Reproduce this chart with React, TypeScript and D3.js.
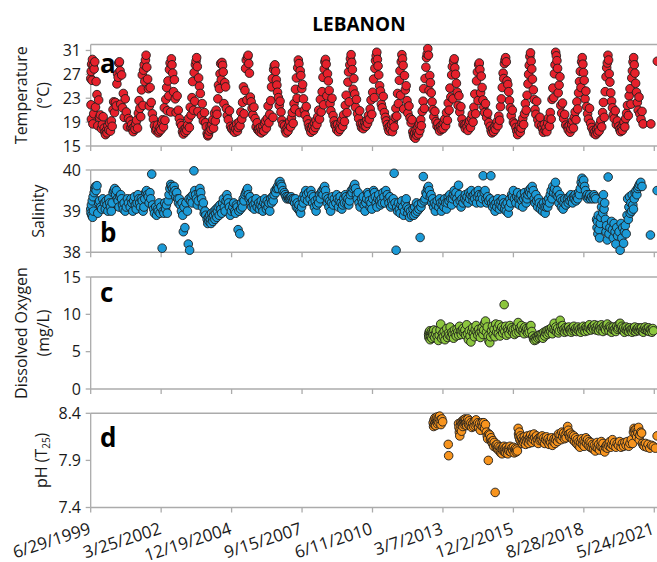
import React from 'react'
import * as d3 from 'd3'

// ---- data (month of year 0-12, value) grouped by year ----
const temperatureByYear: [number, number[]][] = [
  [1999, [5.9,26.3, 6.0,21.9, 6.1,27.5, 6.2,19.5, 6.3,28.7, 6.5,26.0, 6.7,29.5, 6.9,18.7, 7.1,28.4, 7.3,20.4, 7.5,27.9, 7.8,29.1, 8.1,21.5, 8.4,25.8, 8.8,23.6, 9.2,18.4, 9.6,22.7, 10.0,19.8, 10.4,20.2, 10.9,17.9, 11.3,18.6, 11.7,19.9]],
  [2000, [0.2,18.0, 0.5,17.3, 0.8,16.9, 1.2,17.6, 1.5,17.2, 1.9,18.4, 2.3,17.7, 2.7,18.9, 3.1,17.5, 3.5,19.2, 3.9,18.3, 4.3,21.1, 4.6,22.4, 5.0,20.6, 5.4,22.3, 5.8,21.7, 6.1,25.4, 6.4,27.1, 6.7,26.5, 7.0,28.9, 7.3,29.1, 7.6,27.6, 7.9,22.0, 8.3,26.9, 8.7,21.4, 9.1,23.8, 9.5,19.8, 10.0,22.9, 10.5,20.7, 11.0,18.2, 11.5,19.6]],
  [2001, [0.3,19.2, 0.6,18.1, 1.0,18.6, 1.3,17.9, 1.7,17.4, 2.1,18.2, 2.5,17.8, 2.9,18.7, 3.3,19.3, 3.7,18.0, 4.1,20.5, 4.4,22.6, 4.8,21.3, 5.2,19.9, 5.6,24.4, 5.9,26.9, 6.2,21.8, 6.5,27.7, 6.8,28.6, 7.1,25.8, 7.4,29.4, 7.7,30.2, 8.0,28.2, 8.4,26.2, 8.8,24.6, 9.2,21.7, 9.6,24.8, 10.1,22.3, 10.6,20.4, 11.1,19.5, 11.6,18.4]],
  [2002, [0.2,17.6, 0.6,17.9, 1.0,18.5, 1.4,17.2, 1.8,17.5, 2.2,18.1, 2.6,17.7, 3.0,18.9, 3.4,19.4, 3.8,18.2, 4.2,21.4, 4.5,19.3, 4.9,22.8, 5.3,24.8, 5.6,20.9, 5.9,25.9, 6.3,23.4, 6.6,27.8, 6.9,28.9, 7.2,20.7, 7.5,29.6, 7.8,28.6, 8.1,27.2, 8.5,24.1, 8.9,26.1, 9.3,22.9, 9.7,20.6, 10.2,23.4, 10.7,21.0, 11.2,19.6, 11.7,18.8]],
  [2003, [0.3,18.4, 0.7,17.4, 1.1,17.0, 1.5,17.8, 1.9,17.3, 2.3,18.0, 2.7,17.6, 3.1,18.5, 3.5,19.6, 3.9,18.1, 4.3,21.5, 4.7,20.2, 5.1,23.1, 5.4,25.8, 5.8,21.0, 6.1,27.3, 6.4,22.5, 6.7,28.6, 7.0,29.2, 7.3,29.8, 7.6,28.3, 7.9,20.8, 8.2,26.4, 8.6,25.0, 9.0,23.8, 9.5,20.1, 9.9,22.1, 10.4,19.2, 10.9,20.6, 11.4,18.9, 11.8,18.2]],
  [2004, [0.2,17.1, 0.5,16.7, 0.8,16.9, 1.2,17.5, 1.6,18.3, 2.0,17.8, 2.4,18.6, 2.8,19.4, 3.2,18.0, 3.6,20.5, 4.0,19.2, 4.4,21.0, 4.8,20.3, 5.2,22.9, 5.5,25.2, 5.9,24.6, 6.2,27.1, 6.5,28.8, 6.8,26.1, 7.1,29.0, 7.4,28.5, 7.7,27.4, 8.0,22.1, 8.4,25.6, 8.8,24.9, 9.2,21.3, 9.6,20.1, 10.1,19.4, 10.6,20.9, 11.1,18.3, 11.6,17.9]],
  [2005, [0.3,17.6, 0.7,18.2, 1.1,17.3, 1.5,17.9, 1.9,18.7, 2.3,17.5, 2.7,18.1, 3.1,19.0, 3.5,18.4, 3.9,20.7, 4.3,19.5, 4.7,22.3, 5.1,24.9, 5.4,20.4, 5.8,24.3, 6.1,28.0, 6.4,29.4, 6.7,22.7, 7.0,29.9, 7.3,30.2, 7.6,28.8, 7.9,27.2, 8.3,23.2, 8.7,22.4, 9.1,21.3, 9.5,20.2, 10.0,21.5, 10.5,19.6, 11.0,18.2, 11.5,18.9, 11.8,17.7]],
  [2006, [0.2,17.9, 0.6,17.4, 1.0,18.1, 1.4,17.2, 1.8,17.7, 2.2,18.3, 2.6,17.5, 3.0,18.8, 3.4,19.2, 3.8,18.0, 4.2,19.6, 4.6,21.7, 5.0,18.9, 5.4,20.3, 5.8,22.6, 6.2,24.9, 6.6,26.3, 6.9,19.8, 7.2,27.8, 7.5,28.4, 7.8,28.6, 8.1,27.5, 8.4,26.1, 8.7,25.2, 9.0,24.0, 9.4,23.1, 9.8,21.8, 10.2,22.5, 10.6,20.7, 11.0,19.3, 11.5,18.6]],
  [2007, [0.3,18.4, 0.7,17.6, 1.1,17.2, 1.5,18.0, 1.9,17.5, 2.3,18.5, 2.7,19.1, 3.1,18.2, 3.5,19.7, 3.9,20.6, 4.3,18.8, 4.7,22.1, 5.1,21.2, 5.4,24.5, 5.8,26.4, 6.1,23.0, 6.4,28.1, 6.7,29.4, 7.0,28.8, 7.3,20.6, 7.6,27.6, 7.9,26.8, 8.3,24.6, 8.7,25.3, 9.1,22.9, 9.5,21.0, 9.9,20.2, 10.4,21.6, 10.9,19.4, 11.4,18.7, 11.8,18.1]],
  [2008, [0.2,17.8, 0.6,17.3, 1.0,17.9, 1.4,18.4, 1.8,17.6, 2.2,18.8, 2.6,18.1, 3.0,19.3, 3.4,18.6, 3.8,19.9, 4.2,21.0, 4.6,19.5, 5.0,22.8, 5.4,20.7, 5.8,24.1, 6.2,26.5, 6.5,21.9, 6.8,27.9, 7.1,29.1, 7.4,29.5, 7.7,28.7, 8.0,23.4, 8.3,27.1, 8.7,25.9, 9.1,24.3, 9.5,22.1, 9.9,20.9, 10.4,23.0, 10.9,20.1, 11.4,19.2, 11.8,18.5]],
  [2009, [0.2,18.3, 0.6,17.7, 1.0,18.6, 1.4,17.4, 1.8,18.1, 2.2,17.8, 2.6,18.9, 3.0,19.4, 3.4,18.3, 3.8,20.2, 4.2,19.1, 4.6,21.8, 5.0,23.5, 5.4,20.6, 5.8,25.7, 6.1,27.4, 6.4,22.4, 6.7,28.6, 7.0,29.6, 7.3,30.3, 7.6,29.0, 7.9,27.8, 8.2,24.5, 8.6,26.3, 9.0,23.7, 9.4,21.5, 9.8,22.8, 10.3,20.4, 10.8,19.6, 11.3,20.9, 11.7,18.7]],
  [2010, [0.2,18.1, 0.6,18.7, 1.0,17.9, 1.4,18.4, 1.8,19.0, 2.2,18.3, 2.6,19.3, 3.0,18.8, 3.4,20.1, 3.8,19.5, 4.2,21.2, 4.6,22.7, 5.0,20.3, 5.4,24.0, 5.8,26.2, 6.1,23.1, 6.4,28.0, 6.7,29.3, 7.0,30.1, 7.3,30.7, 7.6,29.5, 7.9,28.4, 8.2,26.9, 8.6,25.1, 9.0,24.2, 9.4,22.0, 9.8,21.4, 10.3,23.3, 10.8,20.6, 11.3,19.8, 11.7,19.2]],
  [2011, [0.2,18.6, 0.6,18.0, 1.0,17.5, 1.4,18.3, 1.8,17.8, 2.2,18.6, 2.6,17.4, 3.0,19.0, 3.4,18.2, 3.8,19.8, 4.2,21.3, 4.6,20.0, 5.0,23.8, 5.4,22.1, 5.8,26.0, 6.1,27.6, 6.4,23.5, 6.7,29.1, 7.0,30.3, 7.3,29.6, 7.6,28.5, 7.9,21.2, 8.2,26.8, 8.6,24.4, 9.0,25.1, 9.4,22.6, 9.8,20.5, 10.3,21.7, 10.8,19.7, 11.3,18.9, 11.7,19.4]],
  [2012, [0.1,17.4, 0.4,16.9, 0.7,16.5, 1.0,17.2, 1.3,16.3, 1.6,17.7, 1.9,16.8, 2.2,17.3, 2.5,18.2, 2.8,17.0, 3.1,18.6, 3.4,17.6, 3.8,19.4, 4.1,18.4, 4.5,20.8, 4.9,22.5, 5.2,24.6, 5.5,21.3, 5.8,26.3, 6.2,28.2, 6.5,29.8, 6.8,30.4, 7.1,31.3, 7.4,30.2, 7.7,24.3, 8.0,26.8, 8.3,25.6, 8.7,23.9, 9.1,22.4, 9.5,21.1, 9.9,19.9, 10.4,20.8, 10.9,19.1, 11.4,18.3, 11.8,18.8]],
  [2013, [0.2,18.0, 0.6,17.5, 1.0,18.3, 1.4,17.8, 1.8,18.6, 2.2,17.9, 2.6,18.9, 3.0,19.5, 3.4,18.4, 3.8,20.6, 4.2,19.3, 4.6,22.2, 5.0,21.0, 5.4,24.7, 5.8,23.2, 6.2,26.9, 6.5,28.3, 6.8,22.9, 7.1,29.2, 7.4,29.6, 7.7,28.1, 8.0,27.0, 8.4,25.5, 8.8,24.0, 9.2,21.8, 9.6,23.4, 10.0,20.7, 10.5,21.6, 11.0,19.5, 11.5,18.6]],
  [2014, [0.2,18.5, 0.6,17.9, 1.0,18.7, 1.4,18.2, 1.8,17.6, 2.2,18.8, 2.6,19.2, 3.0,18.1, 3.4,19.6, 3.8,20.3, 4.2,19.0, 4.6,21.5, 5.0,23.7, 5.4,20.4, 5.8,25.9, 6.2,27.4, 6.5,22.6, 6.8,28.6, 7.1,28.9, 7.4,27.8, 7.7,23.9, 8.0,26.7, 8.4,24.8, 8.8,22.7, 9.2,21.5, 9.6,20.6, 10.0,22.1, 10.5,19.8, 11.0,20.5, 11.5,18.9]],
  [2015, [0.2,18.3, 0.6,17.6, 1.0,17.2, 1.4,17.9, 1.8,17.4, 2.2,18.2, 2.6,17.8, 3.0,18.6, 3.4,19.1, 3.8,18.4, 4.2,20.0, 4.6,19.3, 5.0,21.6, 5.4,22.9, 5.8,24.8, 6.2,27.2, 6.5,26.3, 6.8,28.8, 7.1,29.4, 7.4,29.8, 7.7,29.1, 8.0,25.9, 8.4,25.3, 8.8,24.1, 9.2,22.6, 9.6,21.4, 10.0,20.1, 10.5,21.0, 11.0,19.0, 11.5,18.7]],
  [2016, [0.2,18.1, 0.6,17.5, 1.0,16.9, 1.4,17.7, 1.8,18.3, 2.2,17.3, 2.6,18.0, 3.0,18.9, 3.4,19.6, 3.8,18.6, 4.2,20.4, 4.6,22.1, 5.0,21.0, 5.4,23.5, 5.8,25.4, 6.1,27.0, 6.4,28.5, 6.7,30.0, 7.0,30.6, 7.3,29.2, 7.6,27.9, 7.9,26.2, 8.3,24.4, 8.7,22.8, 9.1,21.1, 9.5,20.3, 9.9,22.5, 10.4,19.4, 10.9,18.6, 11.4,19.8]],
  [2017, [0.2,18.4, 0.6,17.9, 1.0,17.3, 1.4,18.6, 1.8,17.6, 2.2,18.1, 2.6,17.4, 3.0,18.8, 3.4,19.7, 3.8,18.3, 4.2,20.6, 4.6,19.5, 5.0,22.8, 5.4,24.7, 5.8,23.1, 6.1,27.1, 6.4,28.6, 6.7,30.7, 7.0,30.1, 7.3,29.3, 7.6,28.0, 7.9,23.9, 8.3,25.2, 8.7,26.6, 9.1,21.8, 9.5,20.5, 9.9,22.2, 10.4,19.6, 10.9,20.3, 11.4,18.5]],
  [2018, [0.2,18.2, 0.6,17.7, 1.0,18.4, 1.4,17.3, 1.8,17.9, 2.2,18.6, 2.6,19.2, 3.0,18.0, 3.4,19.8, 3.8,20.7, 4.2,19.4, 4.6,22.4, 5.0,21.2, 5.4,23.9, 5.8,25.8, 6.2,27.5, 6.5,24.8, 6.8,29.1, 7.1,29.8, 7.4,28.7, 7.7,27.3, 8.0,26.0, 8.4,22.9, 8.8,24.2, 9.2,21.6, 9.6,20.4, 10.0,19.5, 10.5,21.3, 11.0,18.8, 11.5,18.1]],
  [2019, [0.2,17.6, 0.6,17.1, 1.0,17.4, 1.4,16.9, 1.8,17.8, 2.2,17.2, 2.6,18.1, 3.0,17.5, 3.4,18.7, 3.8,19.3, 4.2,18.2, 4.6,20.6, 5.0,22.3, 5.4,19.8, 5.8,24.1, 6.2,26.6, 6.5,28.1, 6.8,28.9, 7.1,30.2, 7.4,29.4, 7.7,27.1, 8.0,25.7, 8.4,23.9, 8.8,22.5, 9.2,21.4, 9.6,20.2, 10.0,19.6, 10.5,20.9, 11.0,18.6, 11.5,19.2]],
  [2020, [0.2,18.3, 0.6,17.8, 1.0,17.4, 1.4,18.1, 1.8,17.6, 2.2,18.5, 2.6,19.0, 3.0,18.2, 3.4,19.6, 3.8,20.5, 4.2,21.8, 4.6,20.1, 5.0,23.4, 5.4,24.6, 5.8,22.0, 6.2,26.4, 6.5,27.6, 6.8,29.1, 7.1,29.8, 7.4,28.6, 7.7,27.2, 8.0,25.5, 8.4,24.0, 8.8,22.3, 9.2,21.0, 9.6,23.2, 10.0,20.4, 10.5,19.5, 11.0,20.8, 11.5,18.7]],
  [2021, [3.1,18.7, 6.1,29.2]],
]

const salinityByYear: [number, number[]][] = [
  [1999, [5.9,39.05, 6.0,38.95, 6.2,39.15, 6.4,38.9, 6.6,39.25, 6.8,38.85, 7.0,39.35, 7.2,39.0, 7.5,39.45, 7.8,39.55, 8.1,39.6, 8.4,39.5, 8.8,39.62, 9.2,38.95, 9.6,39.2, 10.0,39.25, 10.5,39.1, 11.0,39.05, 11.5,39.3]],
  [2000, [0.3,39.2, 0.7,39.05, 1.1,39.25, 1.5,39.15, 1.9,39.0, 2.3,39.3, 2.7,39.2, 3.1,39.1, 3.5,39.0, 3.9,39.2, 4.3,39.45, 4.7,39.5, 5.1,39.55, 5.5,39.4, 5.9,39.5, 6.3,39.3, 6.7,39.25, 7.1,39.1, 7.5,39.35, 7.9,39.4, 8.3,39.3, 8.7,39.15, 9.1,39.05, 9.5,39.2, 10.0,39.0, 10.5,39.1, 11.0,39.3, 11.5,39.2]],
  [2001, [0.3,39.1, 0.7,39.3, 1.1,39.2, 1.5,39.0, 1.9,39.25, 2.3,39.35, 2.7,39.15, 3.1,39.05, 3.5,39.2, 3.9,39.4, 4.3,39.3, 4.7,39.2, 5.1,39.1, 5.5,39.3, 5.9,39.25, 6.3,39.0, 6.7,39.1, 7.1,39.3, 7.5,39.45, 7.9,39.5, 8.3,39.4, 8.7,39.35, 9.1,39.2, 9.5,39.45, 9.9,39.3, 10.3,39.9, 10.7,39.15, 11.2,39.05, 11.6,38.95]],
  [2002, [0.2,39.1, 0.6,38.9, 1.0,39.05, 1.4,39.0, 1.8,39.2, 2.2,38.95, 2.6,39.1, 3.2,38.1, 3.6,39.0, 4.0,38.95, 4.4,39.2, 4.8,39.05, 5.2,39.15, 5.6,38.95, 6.0,39.25, 6.4,39.4, 6.8,39.55, 7.2,39.65, 7.6,39.6, 8.0,39.55, 8.4,39.45, 8.8,39.6, 9.2,39.5, 9.6,39.35, 10.0,39.45, 10.4,39.3, 10.8,39.2, 11.2,39.3, 11.6,39.15]],
  [2003, [0.2,39.0, 0.5,39.2, 0.8,38.9, 1.1,38.5, 1.4,39.1, 1.8,38.6, 2.3,39.2, 3.0,39.0, 3.4,38.2, 3.7,39.3, 4.0,38.05, 4.4,39.25, 4.8,39.35, 5.2,39.2, 5.6,39.4, 6.0,39.98, 6.4,39.5, 6.8,39.4, 7.2,39.3, 7.6,39.15, 8.0,39.25, 8.4,39.45, 8.8,39.55, 9.2,39.45, 9.6,39.3, 10.0,39.1, 10.4,39.2, 10.8,38.95, 11.2,39.0, 11.6,38.9]],
  [2004, [0.2,38.8, 0.5,38.7, 0.8,38.85, 1.1,38.75, 1.4,38.9, 1.7,38.8, 2.0,38.7, 2.3,38.95, 2.6,38.85, 2.9,38.75, 3.2,38.9, 3.5,39.0, 3.8,38.8, 4.1,38.95, 4.4,39.05, 4.7,38.85, 5.0,39.0, 5.4,39.1, 5.8,38.9, 6.2,39.15, 6.6,39.05, 7.0,38.95, 7.4,39.2, 7.8,39.3, 8.2,39.1, 8.6,39.0, 9.0,39.25, 9.4,39.4, 9.8,39.3, 10.2,39.2, 10.6,39.1, 11.0,38.9, 11.5,39.0]],
  [2005, [0.2,39.1, 0.6,39.2, 1.0,39.0, 1.4,38.95, 1.8,39.15, 2.2,39.1, 2.6,38.55, 3.0,39.0, 3.4,38.45, 3.8,39.05, 4.2,39.2, 4.6,39.1, 5.0,39.3, 5.4,39.25, 5.8,39.4, 6.2,39.45, 6.6,39.5, 7.0,39.55, 7.4,39.4, 7.8,39.3, 8.2,39.35, 8.6,39.2, 9.0,39.1, 9.4,39.25, 9.8,39.15, 10.2,39.05, 10.6,39.2, 11.0,39.3, 11.5,39.1]],
  [2006, [0.2,39.2, 0.6,39.05, 1.0,39.15, 1.4,39.25, 1.8,39.1, 2.2,39.0, 2.6,39.2, 3.0,39.3, 3.4,39.15, 3.8,39.05, 4.2,39.25, 4.6,39.1, 5.0,39.2, 5.4,39.0, 5.8,39.3, 6.2,39.2, 6.6,39.35, 7.0,39.25, 7.4,39.4, 7.8,39.5, 8.2,39.45, 8.6,39.55, 9.0,39.6, 9.4,39.55, 9.8,39.7, 10.2,39.72, 10.6,39.65, 11.0,39.6, 11.5,39.5]],
  [2007, [0.2,39.45, 0.6,39.4, 1.0,39.35, 1.4,39.3, 1.8,39.35, 2.2,39.3, 2.6,39.32, 3.0,39.3, 3.4,39.35, 3.8,39.3, 4.2,39.25, 4.6,39.3, 5.0,39.2, 5.4,39.3, 5.8,39.1, 6.2,39.2, 6.6,39.05, 7.0,39.15, 7.4,39.0, 7.8,38.95, 8.2,39.1, 8.6,39.3, 9.0,39.2, 9.4,39.4, 9.8,39.3, 10.2,39.5, 10.6,39.4, 11.0,39.25, 11.5,39.45]],
  [2008, [0.2,39.3, 0.6,39.5, 1.0,39.4, 1.4,39.2, 1.8,39.35, 2.2,39.1, 2.6,39.25, 3.0,39.0, 3.4,39.15, 3.8,39.3, 4.2,39.2, 4.6,39.4, 5.0,39.3, 5.4,39.45, 5.8,39.5, 6.2,39.4, 6.6,39.55, 7.0,39.6, 7.4,39.5, 7.8,39.35, 8.2,39.2, 8.6,39.3, 9.0,39.1, 9.4,39.25, 9.8,39.0, 10.2,39.2, 10.6,39.35, 11.0,39.15, 11.5,39.3]],
  [2009, [0.2,39.2, 0.6,39.4, 1.0,39.3, 1.4,39.1, 1.8,39.25, 2.2,39.35, 2.6,39.2, 3.0,39.05, 3.4,39.15, 3.8,39.3, 4.2,39.2, 4.6,39.4, 5.0,39.35, 5.4,39.2, 5.8,39.3, 6.2,39.15, 6.6,39.25, 7.0,39.4, 7.4,39.5, 7.8,39.45, 8.2,39.55, 8.6,39.6, 9.0,39.65, 9.4,39.55, 9.8,39.4, 10.2,39.3, 10.6,39.45, 11.0,39.2, 11.5,39.1]],
  [2010, [0.2,39.3, 0.6,39.2, 1.0,39.35, 1.4,39.15, 1.8,39.0, 2.2,39.2, 2.6,39.3, 3.0,39.45, 3.4,39.4, 3.8,39.25, 4.2,39.1, 4.6,39.2, 5.0,39.05, 5.4,39.3, 5.8,39.5, 6.2,39.45, 6.6,39.35, 7.0,39.2, 7.4,39.1, 7.8,39.3, 8.2,39.4, 8.6,39.25, 9.0,39.15, 9.4,39.3, 9.8,39.2, 10.2,39.45, 10.6,39.35, 11.0,39.2, 11.5,39.5]],
  [2011, [0.2,39.4, 0.6,39.3, 1.0,39.2, 1.4,39.35, 1.8,39.1, 2.2,39.25, 2.6,39.15, 3.0,39.3, 3.4,39.92, 3.8,39.2, 4.3,38.05, 4.6,39.1, 5.0,39.0, 5.4,39.2, 5.8,39.05, 6.2,38.95, 6.6,39.15, 7.0,39.25, 7.4,39.1, 7.8,38.9, 8.2,39.0, 8.6,39.2, 9.0,39.3, 9.4,39.1, 9.8,38.95, 10.2,39.05, 10.6,38.85, 11.0,39.0, 11.5,38.9]],
  [2012, [0.2,39.05, 0.6,38.9, 1.0,39.1, 1.4,38.95, 1.8,39.2, 2.2,39.0, 2.6,39.15, 3.0,39.05, 3.5,38.36, 3.9,39.1, 4.3,39.2, 5.0,39.84, 5.4,39.25, 5.8,39.3, 6.2,39.45, 6.6,39.4, 7.0,39.55, 7.4,39.6, 7.8,39.5, 8.2,39.35, 8.6,39.4, 9.0,39.2, 9.4,39.3, 9.8,39.1, 10.2,39.2, 10.6,39.0, 11.0,39.15, 11.5,39.25]],
  [2013, [0.2,39.1, 0.6,39.3, 1.0,39.2, 1.4,39.0, 1.8,39.15, 2.2,39.25, 2.6,39.1, 3.0,39.3, 3.4,39.2, 3.8,39.05, 4.2,39.2, 4.6,39.35, 5.0,39.25, 5.4,39.4, 5.8,39.3, 6.2,39.15, 6.6,39.3, 7.0,39.4, 7.4,39.5, 7.8,39.35, 8.2,39.45, 8.6,39.3, 9.0,39.2, 9.4,39.63, 9.8,39.4, 10.2,39.25, 10.6,39.1, 11.0,39.3, 11.5,39.2]],
  [2014, [0.2,39.3, 0.6,39.4, 1.0,39.25, 1.4,39.35, 1.8,39.2, 2.2,39.45, 2.6,39.3, 3.0,39.4, 3.4,39.5, 3.8,39.35, 4.2,39.25, 4.6,39.4, 5.0,39.3, 5.4,39.45, 5.8,39.2, 6.2,39.35, 6.6,39.5, 7.0,39.4, 7.4,39.3, 7.8,39.2, 8.2,39.4, 8.6,39.3, 8.9,39.86, 9.4,39.45, 9.8,39.5, 10.2,39.3, 10.6,39.2, 11.0,39.35, 11.5,39.25]],
  [2015, [0.2,39.3, 0.5,39.86, 0.9,39.2, 1.3,39.1, 1.7,39.25, 2.1,39.15, 2.5,39.0, 2.9,39.2, 3.3,39.1, 3.7,39.3, 4.1,39.2, 4.5,39.05, 4.9,39.15, 5.3,39.25, 5.7,39.1, 6.1,39.3, 6.5,39.2, 6.9,39.05, 7.3,39.15, 7.7,39.0, 8.1,39.2, 8.6,38.95, 9.0,39.1, 9.4,39.3, 9.8,39.2, 10.2,39.4, 10.6,39.35, 11.0,39.5, 11.5,39.3]],
  [2016, [0.2,39.2, 0.6,39.35, 1.0,39.45, 1.4,39.3, 1.8,39.15, 2.2,39.3, 2.6,39.4, 3.0,39.25, 3.4,39.1, 3.8,39.3, 4.2,39.45, 4.6,39.35, 5.0,39.2, 5.4,39.3, 5.8,39.4, 6.2,39.5, 6.6,39.45, 7.0,39.55, 7.4,39.4, 7.8,39.6, 8.3,39.5, 8.7,39.3, 9.1,39.2, 9.5,39.4, 9.9,39.25, 10.3,39.1, 10.7,39.3, 11.1,39.2, 11.6,39.05]],
  [2017, [0.2,39.15, 0.6,39.0, 1.0,39.2, 1.4,39.1, 1.8,38.95, 2.2,39.1, 2.6,39.25, 3.0,39.1, 3.4,39.3, 3.8,39.2, 4.2,39.4, 4.6,39.5, 5.0,39.3, 5.4,39.6, 5.8,39.45, 6.2,39.55, 6.6,39.7, 7.0,39.4, 7.4,39.5, 7.8,39.35, 8.2,39.2, 8.6,39.4, 9.0,39.3, 9.4,39.1, 9.8,39.25, 10.2,39.05, 10.6,39.2, 11.0,39.3, 11.5,39.15]],
  [2018, [0.2,39.3, 0.6,39.2, 1.0,39.35, 1.4,39.25, 1.8,39.4, 2.2,39.3, 2.6,39.2, 3.0,39.35, 3.4,39.3, 3.8,39.4, 4.2,39.25, 4.6,39.35, 5.0,39.3, 5.4,39.45, 5.8,39.4, 6.2,39.55, 6.6,39.7, 7.0,39.8, 7.4,39.65, 7.8,39.75, 8.2,39.6, 8.6,39.5, 9.0,39.35, 9.4,39.4, 9.8,39.3, 10.2,39.35, 10.6,39.4, 11.0,39.3, 11.5,39.35]],
  [2019, [0.2,39.3, 0.6,39.4, 1.0,39.35, 1.4,39.3, 1.8,38.8, 2.0,38.6, 2.2,38.75, 2.4,38.45, 2.6,38.9, 2.9,38.55, 3.2,38.35, 3.5,38.7, 3.8,38.85, 4.1,39.1, 4.4,39.25, 4.7,38.95, 5.0,39.4, 5.3,39.05, 5.6,39.2, 5.9,38.8, 6.2,38.5, 6.5,38.65, 6.8,38.3, 7.2,39.83, 7.6,38.45, 8.0,38.6, 8.8,38.75, 9.2,38.55, 9.6,38.35, 10.0,38.7, 10.4,38.5, 10.8,38.2, 11.2,38.6, 11.6,38.4]],
  [2020, [0.3,38.5, 0.8,38.05, 1.2,38.7, 1.6,38.35, 2.0,38.6, 2.4,38.22, 2.8,38.5, 3.2,38.65, 3.6,38.45, 4.0,38.9, 4.3,39.3, 4.6,38.8, 4.9,39.1, 5.2,39.35, 5.5,38.95, 5.8,39.2, 6.1,39.0, 6.4,39.4, 6.7,39.15, 7.0,39.05, 7.4,39.3, 7.8,39.45, 8.2,39.5, 8.6,39.4, 9.0,39.55, 9.4,39.6, 9.8,39.65, 10.4,39.7, 11.0,39.6]],
  [2021, [2.9,38.42, 6.0,39.5]],
]

const oxygenByYear: [number, number[]][] = [
  [2012, [7.5,7.3, 7.6,6.9, 7.7,7.6, 7.8,7.1, 8.0,7.8, 8.2,6.6, 8.4,7.4, 8.6,7.0, 8.8,7.7, 9.0,6.8, 9.3,7.5, 9.6,7.2, 9.9,7.9, 10.3,6.9, 10.7,7.4, 11.1,7.8, 11.5,7.0]],
  [2013, [0.0,6.5, 0.4,7.2, 0.8,7.9, 1.1,8.7, 1.5,6.8, 1.9,7.4, 2.3,7.0, 2.7,7.7, 3.1,6.6, 3.5,7.3, 3.9,8.1, 4.3,6.9, 4.7,7.5, 5.1,7.2, 5.5,8.3, 5.9,7.0, 6.3,7.6, 6.7,7.3, 7.1,6.8, 7.5,7.9, 7.9,7.4, 8.3,7.1, 8.7,8.0, 9.1,7.6, 9.5,7.2, 9.9,8.4, 10.3,7.7, 10.7,7.3, 11.1,7.8, 11.5,8.1]],
  [2014, [0.0,7.5, 0.4,7.9, 0.8,7.2, 1.2,8.6, 1.6,7.4, 2.0,6.6, 2.4,7.8, 2.8,7.1, 3.2,6.3, 3.6,7.7, 4.0,8.2, 4.4,7.4, 4.8,7.0, 5.2,7.9, 5.6,8.5, 6.0,7.6, 6.4,7.2, 6.8,8.0, 7.2,7.5, 7.6,6.9, 8.0,7.7, 8.4,8.2, 8.8,7.3, 9.2,7.9, 9.6,8.8, 10.0,9.1, 10.4,7.6, 10.8,8.3, 11.2,7.1, 11.6,6.4]],
  [2015, [0.0,6.2, 0.4,7.0, 0.8,7.8, 1.2,8.4, 1.6,7.3, 2.0,8.0, 2.4,7.0, 2.8,8.7, 3.2,7.6, 3.6,8.2, 4.0,7.4, 4.4,8.6, 4.8,7.1, 5.2,7.9, 5.6,8.3, 6.0,7.5, 6.4,8.0, 6.7,11.3, 7.0,7.7, 7.4,8.4, 7.8,7.2, 8.2,8.1, 8.6,7.8, 9.0,7.4, 9.4,8.5, 9.8,7.9, 10.2,8.2, 10.6,7.6, 11.0,8.0, 11.5,7.3]],
  [2016, [0.0,8.1, 0.4,7.5, 0.8,8.4, 1.2,8.9, 1.6,7.6, 2.0,8.2, 2.4,7.9, 2.8,8.5, 3.2,7.7, 3.6,8.0, 4.0,7.4, 4.4,8.3, 4.8,7.8, 5.2,8.1, 5.6,7.5, 6.0,8.0, 6.4,7.6, 6.8,8.4, 7.2,8.5, 7.6,7.7, 8.0,7.1, 8.4,6.7, 8.8,6.5, 9.2,6.9, 9.6,6.6, 10.0,7.0, 10.4,6.8, 10.8,7.2, 11.2,6.9, 11.6,7.3]],
  [2017, [0.0,7.0, 0.4,7.4, 0.8,6.8, 1.2,7.6, 1.6,7.1, 2.0,7.5, 2.4,7.8, 2.8,7.3, 3.2,7.9, 3.6,7.5, 4.0,8.0, 4.4,7.7, 4.8,8.2, 5.2,7.4, 5.6,8.0, 6.0,8.8, 6.4,7.9, 6.8,8.3, 7.2,7.6, 7.6,8.1, 8.0,7.5, 8.4,7.8, 8.8,9.2, 9.2,8.4, 9.6,7.9, 10.0,8.5, 10.4,8.0, 10.8,7.6, 11.2,8.2, 11.6,7.8]],
  [2018, [0.0,8.1, 0.4,7.7, 0.8,8.3, 1.2,7.9, 1.6,8.0, 2.0,7.6, 2.4,8.2, 2.8,7.8, 3.2,8.4, 3.6,7.9, 4.0,8.1, 4.4,7.7, 4.8,8.0, 5.2,8.3, 5.6,7.8, 6.0,8.1, 6.4,7.6, 6.8,8.2, 7.2,7.9, 7.6,8.4, 8.0,8.0, 8.4,7.7, 8.8,8.3, 9.2,8.1, 9.6,7.8, 10.0,8.2, 10.4,8.6, 10.8,8.0, 11.2,7.9, 11.6,8.3]],
  [2019, [0.0,8.4, 0.4,8.0, 0.8,8.6, 1.2,8.2, 1.6,7.9, 2.0,8.1, 2.4,8.5, 2.8,7.8, 3.2,8.3, 3.6,8.0, 4.0,8.6, 4.4,8.2, 4.8,7.7, 5.2,8.4, 5.6,8.1, 6.0,7.9, 6.4,8.5, 6.8,8.7, 7.2,8.1, 7.6,7.8, 8.0,8.4, 8.4,8.2, 8.8,7.6, 9.2,8.0, 9.6,8.3, 10.0,7.9, 10.4,8.1, 10.8,7.7, 11.2,8.4, 11.6,8.0]],
  [2020, [0.0,8.2, 0.4,8.7, 0.8,8.8, 1.2,8.1, 1.6,8.4, 2.0,7.9, 2.4,8.2, 2.8,7.6, 3.2,8.0, 3.6,8.3, 4.0,7.8, 4.4,8.1, 4.8,7.7, 5.2,8.2, 5.6,7.9, 6.0,8.0, 6.4,7.6, 6.8,8.1, 7.2,7.8, 7.6,8.3, 8.0,7.7, 8.4,8.0, 8.8,7.9, 9.2,8.2, 9.6,7.8, 10.0,8.1, 10.4,7.9, 10.8,8.2, 11.2,7.8, 11.6,7.6]],
  [2021, [0.0,8.0, 0.4,8.3, 0.8,7.9, 1.2,8.1, 1.6,7.8, 2.0,8.2, 2.4,7.7, 2.8,8.0, 3.2,7.9, 3.6,7.6, 4.0,8.1, 4.3,7.8]],
]

const phByYear: [number, number[]][] = [
  [2012, [9.6,8.3, 9.8,8.26, 10.0,8.33, 10.2,8.28, 10.4,8.35, 10.6,8.3, 10.8,8.27, 11.0,8.34, 11.2,8.31, 11.4,8.36, 11.6,8.29, 11.8,8.32]],
  [2013, [0.0,8.35, 0.3,8.3, 0.6,8.37, 0.9,8.33, 1.2,8.28, 1.6,8.34, 2.0,8.31, 4.6,8.07, 4.8,7.95, 9.4,8.29, 9.6,8.25, 9.8,8.2, 10.0,8.16, 10.2,8.23, 10.4,8.3, 10.6,8.27, 10.8,8.21, 11.0,8.29, 11.2,8.32, 11.4,8.26, 11.6,8.3, 11.8,8.33]],
  [2014, [0.0,8.28, 0.2,8.31, 0.4,8.34, 0.6,8.29, 0.8,8.33, 1.0,8.3, 1.2,8.27, 1.5,8.31, 1.8,8.34, 2.1,8.28, 2.4,8.32, 2.8,8.27, 3.2,8.3, 3.6,8.25, 4.0,8.29, 4.4,8.26, 4.8,8.31, 5.2,8.27, 5.6,8.33, 6.0,8.28, 6.4,8.3, 6.8,8.25, 7.2,8.29, 7.6,8.22, 8.0,8.27, 8.4,8.3, 8.8,8.26, 9.2,8.3, 9.6,8.24, 10.0,8.28, 10.4,8.2, 10.8,8.16, 11.0,8.13, 11.3,7.9, 11.6,8.18]],
  [2015, [0.0,8.17, 0.3,8.12, 0.6,8.14, 0.9,8.1, 1.2,8.08, 1.5,8.11, 1.8,8.05, 2.1,8.09, 2.5,7.56, 2.8,8.06, 3.1,8.03, 3.4,8.07, 3.7,8.02, 4.0,8.05, 4.4,8.0, 4.8,8.04, 5.1,7.98, 5.4,8.02, 5.7,7.97, 6.0,8.03, 6.3,8.0, 6.6,8.05, 6.9,7.99, 7.2,8.03, 7.5,7.98, 7.8,8.04, 8.1,8.01, 8.4,7.97, 8.7,8.02, 9.0,8.0, 9.4,8.05, 9.8,7.99, 10.2,8.03, 10.6,8.01, 11.0,8.04, 11.4,7.98, 11.7,8.02]],
  [2016, [0.0,8.03, 0.3,7.99, 0.6,8.02, 0.9,8.0, 1.2,8.24, 1.4,8.18, 1.6,8.15, 1.8,8.2, 2.0,8.12, 2.3,8.16, 2.6,8.1, 2.9,8.14, 3.2,8.08, 3.5,8.12, 3.8,8.09, 4.1,8.15, 4.4,8.11, 4.7,8.07, 5.0,8.13, 5.3,8.1, 5.6,8.16, 5.9,8.12, 6.2,8.08, 6.5,8.14, 6.8,8.11, 7.1,8.17, 7.4,8.13, 7.7,8.09, 8.0,8.15, 8.3,8.12, 8.6,8.18, 9.0,8.14, 9.4,8.1, 9.8,8.16, 10.2,8.12, 10.6,8.08, 11.0,8.14, 11.4,8.11, 11.8,8.15]],
  [2017, [0.0,8.12, 0.4,8.16, 0.8,8.1, 1.2,8.14, 1.6,8.08, 2.0,8.12, 2.4,8.15, 2.8,8.1, 3.2,8.13, 3.6,8.07, 4.0,8.11, 4.4,8.09, 4.8,8.14, 5.2,8.06, 5.6,8.1, 6.0,8.13, 6.4,8.08, 6.8,8.12, 7.2,8.15, 7.6,8.1, 8.0,8.18, 8.4,8.13, 8.8,8.17, 9.2,8.12, 9.6,8.2, 10.0,8.15, 10.4,8.19, 10.8,8.13, 11.2,8.17, 11.6,8.14]],
  [2018, [0.0,8.2, 0.3,8.26, 0.6,8.22, 0.9,8.18, 1.2,8.15, 1.6,8.19, 2.0,8.14, 2.4,8.17, 2.8,8.12, 3.2,8.16, 3.6,8.1, 4.0,8.14, 4.4,8.08, 4.8,8.12, 5.2,8.06, 5.6,8.1, 6.0,8.04, 6.4,8.09, 6.8,8.13, 7.2,8.07, 7.6,8.11, 8.0,8.05, 8.4,8.1, 8.8,8.14, 9.2,8.08, 9.6,8.12, 10.0,8.06, 10.4,8.1, 10.8,8.04, 11.2,8.09, 11.6,8.03]],
  [2019, [0.0,8.07, 0.4,8.02, 0.8,8.06, 1.2,8.0, 1.6,8.04, 2.0,8.09, 2.4,8.03, 2.8,8.07, 3.2,8.01, 3.6,8.05, 4.0,8.1, 4.4,8.04, 4.8,8.08, 5.2,8.02, 5.6,7.99, 6.0,8.04, 6.4,8.06, 6.8,8.03, 7.2,8.08, 7.6,8.05, 8.0,8.1, 8.4,8.04, 8.8,8.07, 9.2,8.12, 9.6,8.06, 10.2,8.09, 10.8,8.04, 11.4,8.08]],
  [2020, [0.0,8.06, 0.6,8.1, 1.2,8.04, 1.8,8.08, 2.4,8.05, 3.0,8.09, 3.6,8.06, 4.2,8.1, 4.8,8.05, 5.4,8.08, 6.0,8.12, 6.6,8.08, 7.0,8.2, 7.3,8.24, 7.6,8.22, 7.9,8.18, 8.2,8.23, 8.5,8.15, 8.8,8.21, 9.1,8.19, 9.4,8.25, 9.7,8.12, 10.0,8.17, 10.4,8.2, 10.8,8.19, 11.2,8.08, 11.6,8.06]],
  [2021, [0.0,8.05, 0.6,8.08, 1.2,8.04, 1.8,8.07, 2.6,8.03, 3.4,8.06, 4.2,8.05, 5.2,8.03, 6.0,8.16]],
]

const dateTicks = ['6/29/1999', '3/25/2002', '12/19/2004', '9/15/2007', '6/11/2010', '3/7/2013', '12/2/2015', '8/28/2018', '5/24/2021']

const parseDate = d3.timeParse('%m/%d/%Y')
const yearDate = (yr: number, m: number) => new Date(yr, 0, 1 + Math.round(m * 30.44))

function toPoints(rows: [number, number[]][]) {
  const out: { date: Date; value: number }[] = []
  rows.forEach(([yr, vals]) => {
    for (let i = 0; i < vals.length; i += 2) out.push({ date: yearDate(yr, vals[i]), value: vals[i + 1] })
  })
  return out
}

const W = 657
const H = 562
const X0 = 90.7
const font = "'Open Sans', 'Noto Sans', sans-serif"
const axisColor = '#ababab'

const x = d3.scaleTime()
  .domain([parseDate(dateTicks[0])!, parseDate(dateTicks[dateTicks.length - 1])!])
  .range([X0, 654.3])

const panels = [
  { letter: 'a', rows: temperatureByYear, domain: [15, 32], range: [146, 44.5], ticks: [15, 19, 23, 27, 31], fmt: d3.format('d'), fill: '#e6202b', label: ['Temperature', '(°C)'], letterY: 73 },
  { letter: 'b', rows: salinityByYear, domain: [38, 40], range: [252.3, 170], ticks: [38, 39, 40], fmt: d3.format('d'), fill: '#1b9ad7', label: ['Salinity'], letterY: 242 },
  { letter: 'c', rows: oxygenByYear, domain: [0, 15], range: [389, 277], ticks: [0, 5, 10, 15], fmt: d3.format('d'), fill: '#8cc63e', label: ['Dissolved Oxygen', '(mg/L)'], letterY: 302 },
  { letter: 'd', rows: phByYear, domain: [7.4, 8.4], range: [507.5, 413.3], ticks: [7.4, 7.9, 8.4], fmt: d3.format('.1f'), fill: '#f7941e', label: ['pH'], letterY: 447 },
]

function Panel({ p, last }: { p: typeof panels[number]; last: boolean }) {
  const y = d3.scaleLinear().domain(p.domain).range(p.range)
  const pts = toPoints(p.rows)
  const [bottom, top] = p.range
  const mid = (bottom + top) / 2
  return (
    <g>
      <line x1={X0} x2={W + 5} y1={top} y2={top} stroke={axisColor} strokeWidth={1.6} />
      <line x1={X0} x2={X0} y1={top} y2={bottom} stroke={axisColor} strokeWidth={1.3} />
      <line x1={X0} x2={W + 5} y1={bottom} y2={bottom} stroke={axisColor} strokeWidth={1.6} />
      {p.ticks.map(t => (
        <g key={t}>
          <line x1={X0 - 5} x2={X0} y1={y(t)} y2={y(t)} stroke={axisColor} strokeWidth={1.3} />
          <text x={81} y={y(t)} dy="0.36em" textAnchor="end" fontSize={16} fill="#1a1a1a">{p.fmt(t)}</text>
        </g>
      ))}
      {dateTicks.map(d => (
        <line key={d} x1={x(parseDate(d)!)} x2={x(parseDate(d)!)} y1={bottom} y2={bottom + 5} stroke={axisColor} strokeWidth={1.3} />
      ))}
      {pts.map((d, i) => (
        <circle key={i} cx={x(d.date)} cy={y(d.value)} r={4.3} fill={p.fill} stroke="#1d1d1d" strokeWidth={0.9} />
      ))}
      <text x={100} y={p.letterY} fontSize={26} fontWeight="bold" fill="#000">{p.letter}</text>
      {p.letter === 'd' ? (
        <text transform={`translate(47,${mid}) rotate(-90)`} textAnchor="middle" fontSize={16} fill="#1a1a1a">
          pH (T<tspan fontSize={10} dy={3}>25</tspan><tspan dy={-3}>)</tspan>
        </text>
      ) : p.label.length === 1 ? (
        <text transform={`translate(44,${mid}) rotate(-90)`} textAnchor="middle" fontSize={16} fill="#1a1a1a">{p.label[0]}</text>
      ) : (
        <g>
          <text transform={`translate(27,${mid}) rotate(-90)`} textAnchor="middle" fontSize={16} fill="#1a1a1a">{p.label[0]}</text>
          <text transform={`translate(49,${mid}) rotate(-90)`} textAnchor="middle" fontSize={16} fill="#1a1a1a">{p.label[1]}</text>
        </g>
      )}
      {last && dateTicks.map(d => (
        <text key={d} transform={`translate(${x(parseDate(d)!) + 1},${bottom + 26}) rotate(-18)`} textAnchor="end" fontSize={17} fill="#1a1a1a">{d}</text>
      ))}
    </g>
  )
}

export default function App() {
  return (
    <div style={{ position: 'absolute', left: 0, top: 0, width: W, height: H, background: '#fff' }}>
      <svg width={W} height={H} fontFamily={font} style={{ display: 'block' }}>
        <rect width={W} height={H} fill="#fff" />
        <text x={359} y={31} textAnchor="middle" fontSize={19} fontWeight="bold" fill="#000">LEBANON</text>
        {panels.map((p, i) => <Panel key={p.letter} p={p} last={i === panels.length - 1} />)}
      </svg>
    </div>
  )
}
